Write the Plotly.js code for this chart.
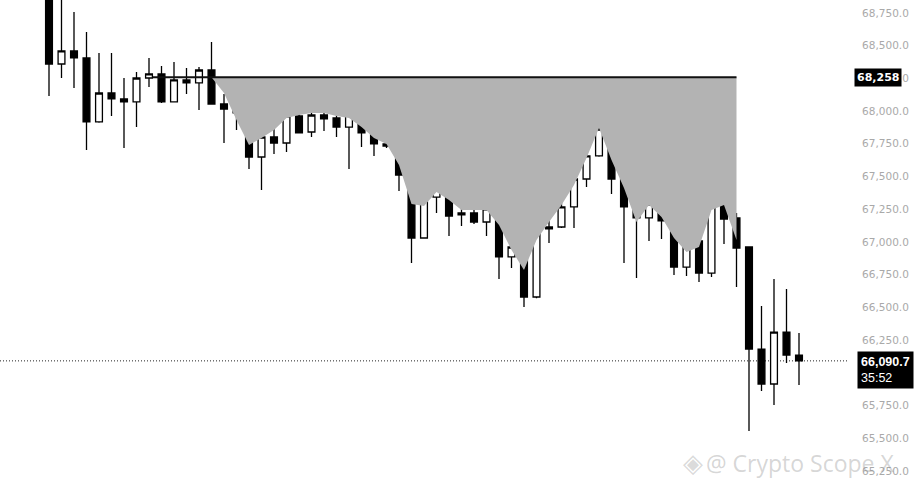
<!DOCTYPE html>
<html>
<head>
<meta charset="utf-8">
<script src="https://cdn.plot.ly/plotly-3.0.1.min.js"></script>
<style>
  html, body { margin: 0; padding: 0; background: #ffffff; }
  #chart { width: 917px; height: 488px; }
</style>
</head>
<body>
<div id="chart"></div>
<script>
// ---- data ----
const candleIndex = Array.from({length: 61}, (_, i) => i);
const opens  = [69000,68360,68460,68406,67917,68138,68093,68070,68253,68284,
                68070,68238,68215,68314,68054,68024,67986,67649,67802,67756,
                67963,67840,67970,67947,67878,67970,67833,67749,67741,67519,
                67030,67343,67404,67206,67221,67152,67252,66885,66961,66579,
                67099,67114,67267,67481,67657,67863,67481,67275,67183,67290,
                67160,66808,67007,66762,67290,67183,66961,66181,65914,66311,
                66135];
const highs  = [69100,68900,68758,68605,68444,68444,68253,68299,68406,68345,
                68375,68329,68337,68528,68131,68100,67990,67825,68024,68039,
                68070,68215,68039,68031,68054,67993,67856,67909,67745,67520,
                67389,67443,67420,67366,67450,67320,67389,67045,67045,67206,
                67191,67420,67557,67878,68161,67870,67611,67404,67389,67320,
                67221,67137,67045,67450,67488,67221,66965,66510,66716,66640,
                66304];
const lows   = [68115,68253,68177,67703,67910,67963,67718,67878,68184,68062,
                68065,68131,68008,68050,67756,67856,67557,67397,67672,67687,
                67830,67802,67848,67802,67557,67726,67657,67718,67389,66839,
                67025,67221,67045,67122,67137,67045,66716,66800,66502,66570,
                66992,67106,67106,67420,67650,67366,66839,66724,67007,67022,
                66747,66739,66693,66732,66984,66655,65554,65860,65753,66074,
                65906];
const closes = [68360,68460,68406,67917,68138,68093,68070,68253,68284,68070,
                68238,68215,68314,68054,68016,67986,67649,67802,67756,67963,
                67833,67970,67940,67878,67970,67833,67749,67733,67511,67030,
                67343,67404,67198,67221,67152,67252,66885,66961,66579,67106,
                67114,67267,67481,67657,67863,67481,67267,67183,67290,67160,
                66808,67007,66762,67290,67175,66953,66181,65914,66311,66135,
                66090.7];

// resistance level and the shaded area under it
const level = 68258;
const levelStart = 8.3;
const levelEnd = 55;
const fillIndex = Array.from({length: 43}, (_, i) => i + 13);
const fillLower = [68258,68138,67932,67741,67794,67856,67947,67970,67986,67986,
                   67963,67947,67878,67794,67748,67588,67290,67275,67382,67320,
                   67244,67244,67244,67129,66938,66785,67015,67152,67282,67435,
                   67641,67871,67626,67412,67152,67282,67190,67030,66923,66961,
                   67244,67282,67015];

const lastPrice = 66090.7;
const countdown = "35:52";
const yTicks = [65250,65500,65750,66000,66250,66500,66750,67000,67250,67500,67750,68000,68250,68500,68750];

const fmt = v => v.toLocaleString('en-US', {minimumFractionDigits: 1, maximumFractionDigits: 1});
const fmt0 = v => v.toLocaleString('en-US', {maximumFractionDigits: 0});

const traces = [
  { x: fillIndex, y: fillIndex.map(() => level), type: 'scatter', mode: 'lines',
    line: {width: 0, color: 'rgba(0,0,0,0)'}, hoverinfo: 'skip', showlegend: false },
  { x: fillIndex, y: fillLower, type: 'scatter', mode: 'lines', fill: 'tonexty',
    fillcolor: '#b3b3b3', line: {width: 0, color: 'rgba(0,0,0,0)'},
    hoverinfo: 'skip', showlegend: false },
  { x: [levelStart, levelEnd], y: [level, level], type: 'scatter', mode: 'lines',
    line: {width: 2, color: '#111111'}, hoverinfo: 'skip', showlegend: false },
  { x: candleIndex, open: opens, high: highs, low: lows, close: closes,
    type: 'candlestick', showlegend: false,
    increasing: {line: {color: '#000000', width: 1.3}, fillcolor: '#ffffff'},
    decreasing: {line: {color: '#000000', width: 1.3}, fillcolor: '#000000'},
    whiskerwidth: 0 }
];

const layout = {
  width: 917, height: 488,
  margin: {l: 0, r: 69, t: 0, b: 0, pad: 0},
  paper_bgcolor: '#ffffff', plot_bgcolor: '#ffffff',
  showlegend: false,
  boxgap: 0.22,
  xaxis: { range: [-3.92, 63.92], visible: false, rangeslider: {visible: false},
           showgrid: false, zeroline: false, fixedrange: true },
  yaxis: { side: 'right', range: [65119, 68849], showgrid: false, zeroline: false,
           showline: false, tickmode: 'array', tickvals: yTicks,
           ticktext: yTicks.map(fmt), ticks: 'outside', ticklen: 11,
           tickcolor: 'rgba(0,0,0,0)',
           tickfont: {family: 'DejaVu Sans', size: 10.5, color: '#a9a9a9'},
           fixedrange: true },
  shapes: [
    { type: 'line', xref: 'paper', x0: 0, x1: 1, yref: 'y', y0: lastPrice, y1: lastPrice,
      line: {color: '#222222', width: 1, dash: '1px,2px'}, layer: 'below' }
  ],
  annotations: [
    { xref: 'paper', x: 1, xanchor: 'left', xshift: 6, yref: 'y', y: level, yanchor: 'middle',
      text: '<b>' + fmt0(level) + '</b>', showarrow: false, bgcolor: '#000000',
      font: {family: 'DejaVu Sans', size: 11, color: '#ffffff'}, borderpad: 2 },
    { xref: 'paper', x: 1, xanchor: 'left', xshift: 9, yref: 'y', y: lastPrice, yanchor: 'top',
      yshift: 10, align: 'left',
      text: '<b>' + fmt(lastPrice) + '</b><br>' + countdown, showarrow: false, bgcolor: '#000000',
      font: {family: 'Liberation Sans', size: 12.5, color: '#ffffff'}, borderpad: 3 },
    { xref: 'paper', yref: 'paper', x: 0.817, y: 0.052, xanchor: 'center', yanchor: 'middle',
      text: '◈', showarrow: false,
      font: {family: 'DejaVu Sans', size: 26, color: 'rgba(140,140,140,0.32)'} },
    { xref: 'paper', yref: 'paper', x: 1.058, y: 0.052, xanchor: 'right', yanchor: 'middle',
      text: '@ Crypto Scope X', showarrow: false,
      font: {family: 'Open Sans', size: 23, color: 'rgba(140,140,140,0.36)'} }
  ]
};

Plotly.newPlot('chart', traces, layout, {displayModeBar: false, staticPlot: true});
</script>
</body>
</html>
